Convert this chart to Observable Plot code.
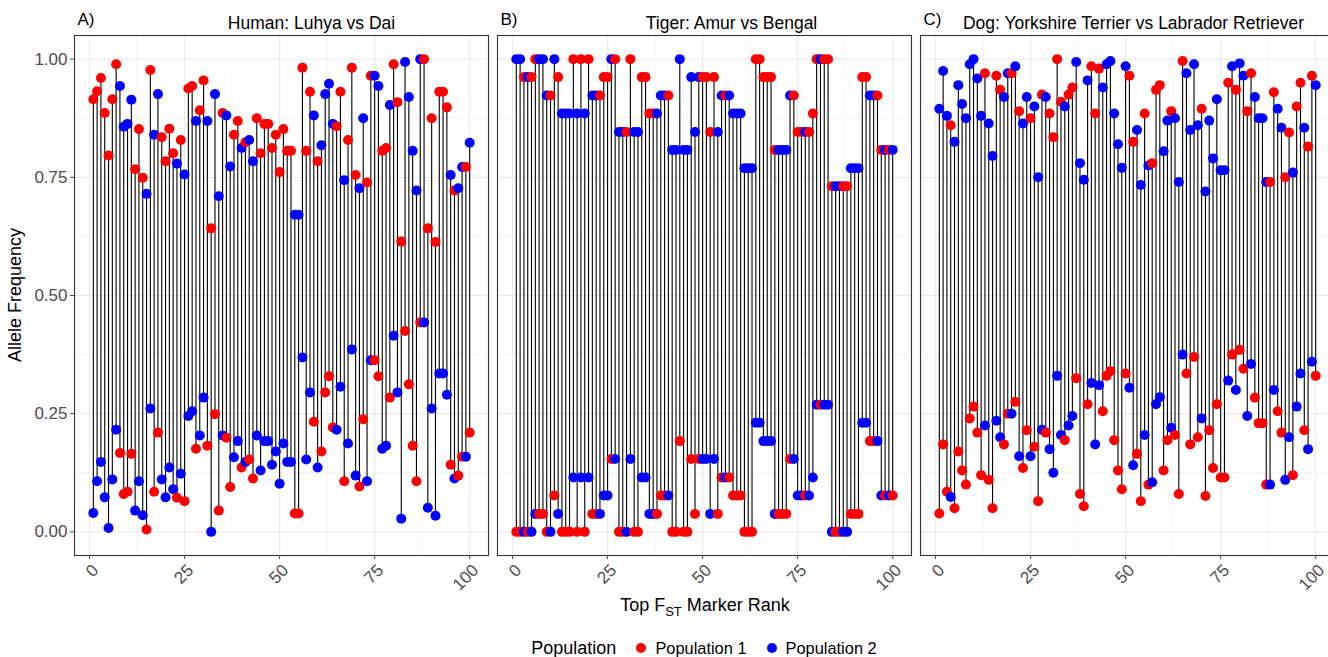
<!DOCTYPE html>
<html><head><meta charset="utf-8">
<script src="https://cdn.jsdelivr.net/npm/d3@7"></script>
<script src="https://cdn.jsdelivr.net/npm/@observablehq/plot@0.6"></script>
<style>
html,body{margin:0;background:#fff;font-family:"Liberation Sans",Arial,sans-serif;overflow:hidden;}
#wrap{position:relative;width:1328px;height:657px;overflow:hidden;}
#chart svg{max-width:none !important;}
#legend{position:absolute;left:73px;top:636px;width:1262px;height:24px;display:flex;justify-content:center;align-items:center;font-size:16.4px;color:#000;}
#legend .ttl{font-size:18px;margin-right:20px;}
#legend .dot{display:inline-block;width:10px;height:10px;border-radius:50%;margin-right:9px;}
#legend .gap{display:inline-block;width:20px;}
</style></head><body><div id="wrap"><div id="chart"></div><div id="legend"></div></div>
<script>
const panels = ["A","B","C"];
const panelLetters = ["A)","B)","C)"];
const panelTitles = ["Human: Luhya vs Dai","Tiger: Amur vs Bengal","Dog: Yorkshire Terrier vs Labrador Retriever"];
const seriesNames = ["Population 1","Population 2"];
const seriesColors = ["#FF0000","#0000FF"];
const yTicks = [0,0.25,0.5,0.75,1];
const yMinor = [0.125,0.375,0.625,0.875];
const xTicks = [0,25,50,75,100];
const xMinor = [12.5,37.5,62.5,87.5];

const humanPop1 = [.915,.932,.960,.886,.796,.915,.989,.167,.080,.085,.165,.767,.852,.749,.005,.977,.085,.210,.835,.784,.853,.801,.072,.829,.065,.938,.943,.176,.892,.955,.182,.642,.249,.045,.886,.199,.095,.840,.869,.136,.824,.153,.113,.875,.801,.863,.863,.812,.840,.761,.852,.806,.806,.039,.039,.982,.806,.931,.233,.784,.170,.295,.329,.221,.858,.931,.107,.829,.982,.755,.096,.238,.739,.965,.363,.329,.806,.812,.284,.989,.909,.614,.425,.312,.182,.107,.443,1.0,.642,.875,.613,.931,.931,.898,.142,.722,.119,.159,.772,.210];
const humanPop2 = [.040,.107,.148,.073,.008,.111,.216,.943,.857,.863,.914,.045,.107,.035,.715,.261,.840,.926,.111,.073,.136,.090,.779,.123,.756,.245,.255,.869,.204,.284,.869,.000,.926,.710,.204,.881,.773,.158,.192,.812,.148,.829,.784,.204,.130,.192,.192,.142,.170,.102,.187,.148,.148,.671,.671,.369,.153,.295,.881,.136,.818,.926,.948,.863,.216,.307,.744,.187,.386,.119,.727,.875,.107,.363,.965,.943,.176,.182,.903,.415,.295,.028,.994,.920,.806,.722,1.0,.443,.051,.261,.034,.335,.335,.290,.755,.113,.727,.772,.159,.823];
const tigerPop1 = [0,0,.962,0,.962,1,.038,.038,0,.923,.077,.962,0,0,0,1,0,1,0,1,.038,.038,.923,.962,.962,.154,1,0,0,.846,1,0,0,.962,.962,.885,.885,.038,.077,.077,.923,0,0,.192,0,0,.154,.038,.154,.962,.962,.846,.962,.038,.115,.923,.115,.077,.077,.077,0,0,0,1,1,.962,.962,.962,.808,.038,.038,.038,.154,.923,.846,.846,.077,.846,.885,1,.269,1,1,.731,0,0,.731,.731,.038,.038,.038,.962,.962,.192,.192,.923,.808,.077,.808,.077];
const tigerPop2 = [1,1,0,.962,0,.038,1,1,.923,0,1,.038,.885,.885,.885,.115,.885,.115,.885,.115,.923,.923,.038,.077,.077,1,.154,.846,.846,0,.154,.846,.846,.115,.115,.038,.038,.885,.923,.923,.077,.808,.808,1,.808,.808,.962,.846,.962,.154,.154,.038,.154,.846,.923,.115,.923,.885,.885,.885,.769,.769,.769,.231,.231,.192,.192,.192,.038,.808,.808,.808,.923,.154,.077,.077,.846,.077,.115,.269,1,.269,.269,0,.731,.731,0,0,.769,.769,.769,.231,.231,.923,.923,.192,.077,.808,.077,.808];
const dogPop1 = [.039,.185,.085,.860,.050,.170,.130,.100,.240,.265,.210,.120,.970,.110,.050,.965,.935,.185,.250,.970,.275,.890,.135,.215,.875,.180,.065,.925,.210,.885,.835,1.0,.910,.194,.925,.940,.325,.080,.054,.270,.985,.885,.980,.255,.330,.340,.194,.130,.090,.335,.965,.825,.165,.065,.885,.100,.780,.935,.945,.130,.194,.890,.205,.080,.996,.335,.185,.370,.200,.895,.076,.215,.135,.270,.115,.115,.950,.375,.935,.385,.345,.890,.970,.284,.230,.230,.100,.740,.930,.255,.210,.750,.845,.120,.900,.950,.215,.815,.965,.330];
const dogPop2 = [.895,.975,.880,.074,.825,.945,.905,.875,.989,1.0,.959,.880,.225,.864,.795,.235,.200,.920,.970,.250,.985,.160,.864,.920,.160,.900,.750,.216,.920,.175,.125,.330,.205,.900,.225,.245,.994,.780,.745,.955,.315,.185,.310,.940,.989,.996,.885,.820,.770,.985,.305,.141,.850,.734,.205,.775,.105,.270,.285,.805,.870,.220,.875,.740,.375,.970,.850,.989,.860,.240,.720,.870,.790,.915,.765,.765,.320,.985,.300,.991,.965,.245,.355,.920,.875,.875,.740,.100,.300,.895,.855,.110,.200,.760,.265,.335,.855,.175,.360,.945];

const datasets = [[humanPop1, humanPop2],[tigerPop1, tigerPop2],[dogPop1, dogPop2]];
const stems = [], dots = [];
panels.forEach((p, k) => {
  const [a, b] = datasets[k];
  a.forEach((v, i) => {
    stems.push({panel: p, rank: i + 1, lo: v, hi: b[i]});
    dots.push({panel: p, rank: i + 1, freq: v, pop: seriesNames[0]});
    dots.push({panel: p, rank: i + 1, freq: b[i], pop: seriesNames[1]});
  });
});
const titleRows = panels.map((p, i) => ({panel: p, letter: panelLetters[i], title: panelTitles[i]}));
const titleShift = [30, 27, 6];

const chart = Plot.plot({
  width: 1335, height: 630,
  marginLeft: 73, marginRight: 0, marginTop: 35, marginBottom: 75,
  style: {fontFamily: "'Liberation Sans', Arial, sans-serif", fontSize: "16px", background: "#fff", maxWidth: "none"},
  x: {domain: [-3.95, 104.95]},
  y: {domain: [-0.05, 1.05]},
  fx: {domain: panels, paddingInner: 0.0201, paddingOuter: 0, axis: null},
  color: {domain: seriesNames, range: seriesColors},
  marks: [
    Plot.ruleX(xMinor, {stroke: "#ebebeb", strokeWidth: 0.6}),
    Plot.ruleY(yMinor, {stroke: "#ebebeb", strokeWidth: 0.6}),
    Plot.ruleX(xTicks, {stroke: "#ebebeb", strokeWidth: 1.2}),
    Plot.ruleY(yTicks, {stroke: "#ebebeb", strokeWidth: 1.2}),
    Plot.ruleX(stems, {fx: "panel", x: "rank", y1: "lo", y2: "hi", stroke: "#000", strokeWidth: 1.1}),
    Plot.dot(dots, {fx: "panel", x: "rank", y: "freq", fill: "pop", r: 5, stroke: null}),
    Plot.frame({stroke: "#333", strokeWidth: 1.1}),
    Plot.axisY(yTicks, {tickFormat: d => d.toFixed(2), tickSize: 4, tickPadding: 3, fontSize: 17, color: "#4d4d4d", label: null}),
    Plot.axisX(xTicks, {tickFormat: () => "", tickSize: 4, color: "#4d4d4d", label: null}),
    Plot.axisX(xTicks, {tickRotate: -45, tickSize: 4, tickPadding: 2, fontSize: 17, dx: 6, dy: 6, color: "#4d4d4d", strokeOpacity: 0, label: null}),
    Plot.text(titleRows, {fx: "panel", text: "letter", frameAnchor: "top-left", textAnchor: "start", lineAnchor: "bottom", dx: 3, dy: -11, fontSize: 17, fill: "#000"}),
    ...titleRows.map((t, i) => Plot.text([t], {fx: "panel", text: "title", frameAnchor: "top", lineAnchor: "bottom", dx: titleShift[i], dy: -7, fontSize: 17.5, fill: "#000"}))
  ]
});
document.getElementById("chart").appendChild(chart);

const svg = d3.select(chart);
svg.append("text").attr("transform", "translate(21,295) rotate(-90)").attr("text-anchor", "middle")
  .attr("font-size", 18).attr("fill", "#000").text("Allele Frequency");
const xt = svg.append("text").attr("x", 705).attr("y", 611).attr("text-anchor", "middle")
  .attr("font-size", 18).attr("fill", "#000");
xt.append("tspan").text("Top F");
xt.append("tspan").attr("font-size", 13).attr("dy", 5).text("ST");
xt.append("tspan").attr("dy", -5).text(" Marker Rank");

const lg = document.getElementById("legend");
lg.innerHTML = `<span class="ttl">Population</span>` + seriesNames.map((n, i) =>
  `<span class="dot" style="background:${seriesColors[i]}"></span><span class="lab">${n}</span>`).join(`<span class="gap"></span>`);
</script></body></html>
